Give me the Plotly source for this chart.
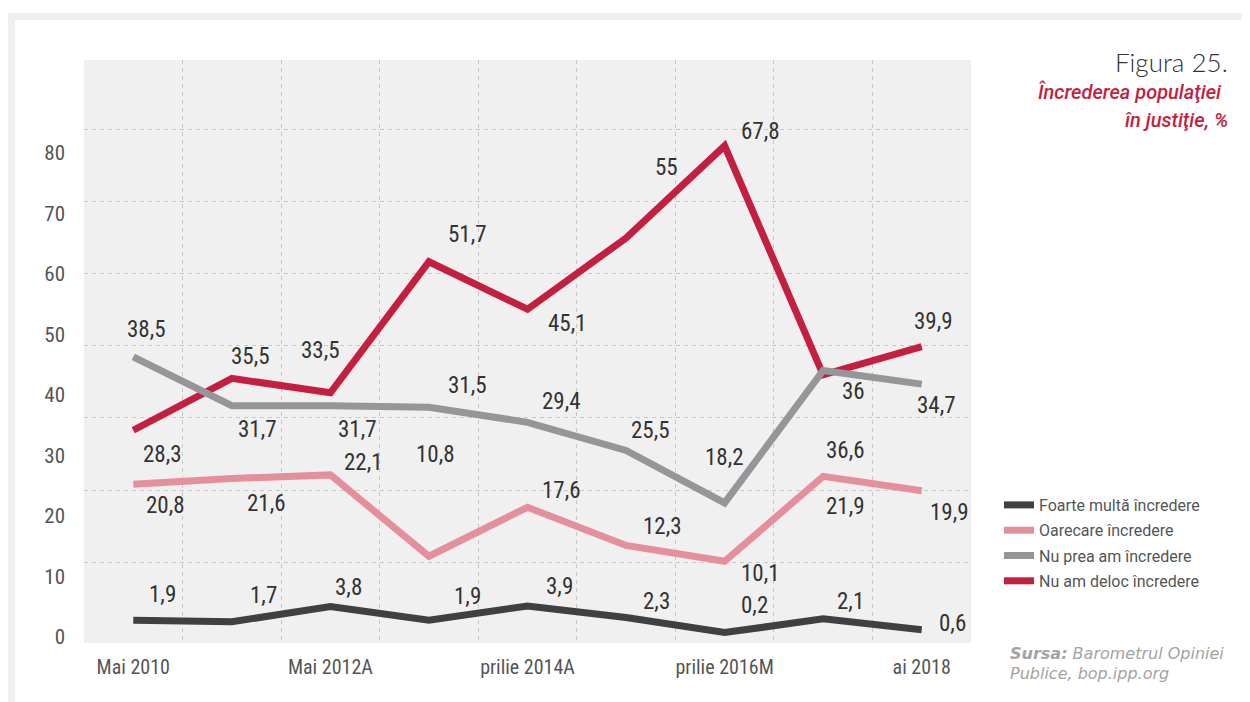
import plotly.graph_objects as go

# ---------------- data ----------------
periods = list(range(9))
tick_positions = [0, 2, 4, 6, 8]
tick_labels = ["Mai 2010", "Mai 2012A", "prilie 2014A", "prilie 2016M", "ai 2018"]
y_tick_labels = [0, 10, 20, 30, 40, 50, 60, 70, 80]
y_grid_values = [10, 20, 30, 40, 50, 60, 70]

series_names = ["Nu am deloc încredere", "Nu prea am încredere",
                "Oarecare încredere", "Foarte multă încredere"]
nu_am_deloc = [28.3, 35.5, 33.5, 51.7, 45.1, 55, 67.8, 36, 39.9]
nu_prea = [38.5, 31.7, 31.7, 31.5, 29.4, 25.5, 18.2, 36.6, 34.7]
oarecare = [20.8, 21.6, 22.1, 10.8, 17.6, 12.3, 10.1, 21.9, 19.9]
foarte_multa = [1.9, 1.7, 3.8, 1.9, 3.9, 2.3, 0.2, 2.1, 0.6]

# ---------------- styles ----------------
colors = ["#c41e41", "#969699", "#e58f9d", "#404042"]
# label offsets in pixels (dx right, dy up)
label_offsets = [
    [(29, -24), (19, 22), (-10, 42), (39, 27), (40, -14), (40, 70), (36, 14), (30, -17), (12, 25)],
    [(13, 27), (26, -24), (27, -24), (39, 22), (34, 21), (24, 20), (0, 45), (22, -80), (15, -21)],
    [(32, -21), (35, -25), (33, 12), (7, 102), (34, 17), (36, 19), (36, -12), (22, -30), (28, -22)],
    [(29, 26), (32, 26), (18, 19), (39, 24), (32, 19), (30, 16), (30, 27), (27, 17), (31, 6)],
]

# the original's value-axis labels are spaced on a tighter scale than its grid
LABEL_SCALE = 6.05 / 7.2
LABEL_OFFSET = -3 / 7.2

W, H = 1250, 702
PAGE = 8  # body margin of the html page
ML, MR, MT, MB = 76, 287, 52, 67
PW, PH = W - ML - MR, H - MT - MB


def px(sx):
    return (sx - PAGE - ML) / PW


def py(sy):
    return (H - MB - (sy - PAGE)) / PH


NARROW = "Liberation Sans Narrow, Roboto Condensed, Arial Narrow, Roboto, sans-serif"

fig = go.Figure()
all_series = [nu_am_deloc, nu_prea, oarecare, foarte_multa]
n = len(all_series)
for i, (name, vals, col) in enumerate(zip(series_names, all_series, colors)):
    fig.add_trace(go.Scatter(
        x=periods, y=vals, mode="lines", name=name, legendgroup=name,
        legendrank=n - i,
        line=dict(color=col, width=7),
        hoverinfo="skip",
    ))

annotations = []
for vals, offs in zip(all_series, label_offsets):
    for xi, v, (dx, dy) in zip(periods, vals, offs):
        annotations.append(dict(
            x=xi, y=v, xref="x", yref="y", text=f"{v:g}".replace(".", ","),
            showarrow=False, xshift=dx, yshift=dy, xanchor="center", yanchor="middle",
            font=dict(family=NARROW, size=23, color="#333333"),
        ))

annotations += [
    dict(x=px(1230), y=py(62), xref="paper", yref="paper", text="Figura 25.",
         showarrow=False, xanchor="right", yanchor="middle",
         font=dict(family="Lato, Open Sans, sans-serif", size=26, color="#333333", weight=300)),
    dict(x=px(1224), y=py(92), xref="paper", yref="paper", text="<i>Încrederea populaţiei</i>",
         showarrow=False, xanchor="right", yanchor="middle",
         font=dict(family="Roboto, sans-serif", size=20, color="#c41e41", weight=500)),
    dict(x=px(1230), y=py(120), xref="paper", yref="paper", text="<i>în justiţie, %</i>",
         showarrow=False, xanchor="right", yanchor="middle",
         font=dict(family="Roboto, sans-serif", size=20, color="#c41e41", weight=500)),
    dict(x=px(1008), y=py(653), xref="paper", yref="paper",
         text="<b><i>Sursa:</i></b><i> Barometrul Opiniei</i>",
         showarrow=False, xanchor="left", yanchor="middle",
         font=dict(family="DejaVu Sans, sans-serif", size=16, color="#a3a3a3")),
    dict(x=px(1008), y=py(673), xref="paper", yref="paper",
         text="<i>Publice, bop.ipp.org</i>",
         showarrow=False, xanchor="left", yanchor="middle",
         font=dict(family="DejaVu Sans, sans-serif", size=16, color="#a3a3a3")),
]

shapes = [
    dict(type="rect", xref="paper", yref="paper", x0=px(8), x1=px(1260), y0=py(20), y1=py(13),
         fillcolor="#efefef", line=dict(width=0), layer="below"),
    dict(type="rect", xref="paper", yref="paper", x0=px(8), x1=px(15), y0=py(712), y1=py(13),
         fillcolor="#efefef", line=dict(width=0), layer="below"),
]

grid_style = dict(gridcolor="#c8c8c8", gridwidth=1, griddash="4px,4px")

fig.update_layout(
    width=W, height=H,
    margin=dict(l=ML, r=MR, t=MT, b=MB),
    paper_bgcolor="white", plot_bgcolor="#f0f0f0",
    hovermode=False,
    showlegend=True,
    legend=dict(x=px(999), y=py(488), xanchor="left", yanchor="top",
                traceorder="grouped", tracegroupgap=1.5,
                itemwidth=30, bgcolor="rgba(0,0,0,0)",
                font=dict(family="Roboto, sans-serif", size=16, color="#555555")),
    xaxis=dict(range=[-0.5, 8.5], tickmode="array", tickvals=tick_positions, ticktext=tick_labels,
               showgrid=False, zeroline=False, showline=False, ticks="",
               tickfont=dict(family=NARROW, size=20, color="#555555"), ticklabelstandoff=10,
               minor=dict(tickmode="array", tickvals=[p + 0.5 for p in periods[:-1]],
                          showgrid=True, ticks="", **grid_style)),
    yaxis=dict(range=[-1.25, 79.72], tickmode="array",
               tickvals=[LABEL_OFFSET + LABEL_SCALE * v for v in y_tick_labels],
               ticktext=[str(v) for v in y_tick_labels],
               showgrid=False, zeroline=False, showline=False, ticks="",
               tickfont=dict(family=NARROW, size=21, color="#555555"), ticklabelstandoff=18,
               minor=dict(tickmode="array", tickvals=y_grid_values,
                          showgrid=True, ticks="", **grid_style)),
    annotations=annotations,
    shapes=shapes,
)

fig.write_html("out.html")
